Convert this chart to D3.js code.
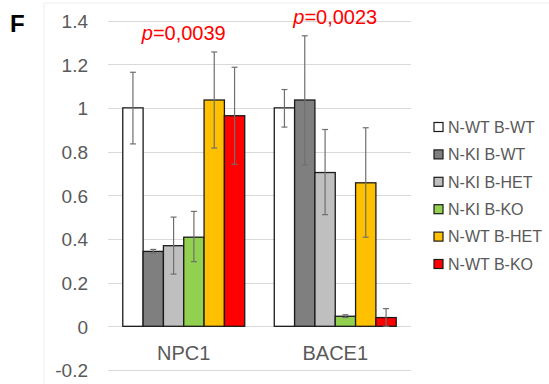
<!DOCTYPE html>
<html><head><meta charset="utf-8">
<script src="https://cdn.jsdelivr.net/npm/d3@7"></script>
<style>body{margin:0;background:#fff;} svg{display:block;font-family:Arial,"Liberation Sans",sans-serif;}</style>
</head><body>
<svg id="c" width="549" height="384"></svg>
<script>
const categories = ["NPC1", "BACE1"];
const series = ["N-WT B-WT", "N-KI B-WT", "N-KI B-HET", "N-KI B-KO", "N-WT B-HET", "N-WT B-KO"];
const colors = ["#FFFFFF", "#7F7F7F", "#BFBFBF", "#92D050", "#FFC000", "#FF0000"];
const means = [
  [1.0, 0.343, 0.369, 0.408, 1.036, 0.964],
  [1.0, 1.036, 0.704, 0.046, 0.657, 0.040]
];
const errHigh = [
  [1.163, 0.352, 0.500, 0.526, 1.256, 1.186],
  [1.084, 1.330, 0.901, 0.053, 0.909, 0.081]
];
const errLow = [
  [0.835, 0.335, 0.239, 0.296, 0.816, 0.742],
  [0.912, 0.738, 0.511, 0.040, 0.408, 0.000]
];
const yTicks = [-0.2, 0, 0.2, 0.4, 0.6, 0.8, 1, 1.2, 1.4];
const pLabels = ["0,0039", "0,0023"];
const pValueHeights = [1.31, 1.385];

const svg = d3.select("#c");
const left = 108, right = 411;
const y = d3.scaleLinear().domain([-0.2, 1.4]).range([370, 20.5]);
const x0 = d3.scaleBand().domain(categories).range([left, right]).paddingInner(0.195).paddingOuter(0.0975);
const x1 = d3.scaleBand().domain(series).range([0, x0.bandwidth()]);

// faint chart border
svg.append("path").attr("d", "M44,384 V3 H549").attr("fill", "none").attr("stroke", "#eeeeee").attr("stroke-width", 1);

// gridlines
svg.append("g").selectAll("line").data(yTicks).join("line")
  .attr("x1", left).attr("x2", right)
  .attr("y1", d => Math.round(y(d)) + 0.5).attr("y2", d => Math.round(y(d)) + 0.5)
  .attr("stroke", "#d9d9d9").attr("stroke-width", 1.2);

// y axis labels
const yAxis = d3.axisLeft(y).tickValues(yTicks).tickSize(0).tickPadding(0)
  .tickFormat(d => String(+d.toFixed(1)));
const ya = svg.append("g").attr("transform", "translate(88,0)").call(yAxis);
ya.select(".domain").remove();
ya.selectAll("text").attr("font-size", 19).attr("fill", "#595959").attr("font-family", "Arial, 'Liberation Sans', sans-serif").attr("dy", "0.36em");

// bars
const groups = svg.append("g").selectAll("g").data(categories).join("g")
  .attr("transform", d => `translate(${x0(d)},0)`);
groups.each(function(cat, ci) {
  const g = d3.select(this);
  g.selectAll("rect").data(series).join("rect")
    .attr("x", s => x1(s))
    .attr("y", (s, i) => y(means[ci][i]))
    .attr("width", x1.bandwidth())
    .attr("height", (s, i) => y(0) - y(means[ci][i]))
    .attr("fill", (s, i) => colors[i])
    .attr("stroke", "#1a1a1a").attr("stroke-width", 1.3);
  const eb = g.append("g").attr("stroke", "#6f6f6f").attr("stroke-width", 1.2);
  series.forEach((s, i) => {
    const cx = x1(s) + x1.bandwidth() / 2;
    eb.append("line").attr("x1", cx).attr("x2", cx).attr("y1", y(errHigh[ci][i])).attr("y2", y(errLow[ci][i]));
    eb.append("line").attr("x1", cx - 3).attr("x2", cx + 3).attr("y1", y(errHigh[ci][i])).attr("y2", y(errHigh[ci][i]));
    eb.append("line").attr("x1", cx - 3).attr("x2", cx + 3).attr("y1", y(errLow[ci][i])).attr("y2", y(errLow[ci][i]));
  });
});

// x labels
svg.append("g").selectAll("text").data(categories).join("text")
  .attr("x", d => x0(d) + x0.bandwidth() / 2).attr("y", 360)
  .attr("text-anchor", "middle").attr("font-size", 20).attr("fill", "#595959").text(d => d);

// p values
const pt = svg.append("g").selectAll("text").data(categories).join("text")
  .attr("x", d => x0(d) + x0.bandwidth() / 2).attr("y", (d, i) => y(pValueHeights[i]))
  .attr("text-anchor", "middle").attr("font-size", 20).attr("fill", "#FF0000");
pt.append("tspan").attr("font-style", "italic").text("p");
pt.append("tspan").text((d, i) => "=" + pLabels[i]);

// legend
const lg = svg.append("g").selectAll("g").data(series).join("g")
  .attr("transform", (d, i) => `translate(434,${127 + i * 27.4})`);
lg.append("rect").attr("x", 0).attr("y", -4.5).attr("width", 9).attr("height", 9)
  .attr("fill", (d, i) => colors[i]).attr("stroke", "#1a1a1a").attr("stroke-width", 1.2);
lg.append("text").attr("x", 14).attr("y", 0).attr("dy", "0.36em")
  .attr("font-size", 16).attr("fill", "#595959").text(d => d);

// panel letter
svg.append("text").attr("x", 10).attr("y", 32).attr("font-size", 24).attr("font-weight", "bold").attr("fill", "#000").text("F");
</script>
</body></html>
